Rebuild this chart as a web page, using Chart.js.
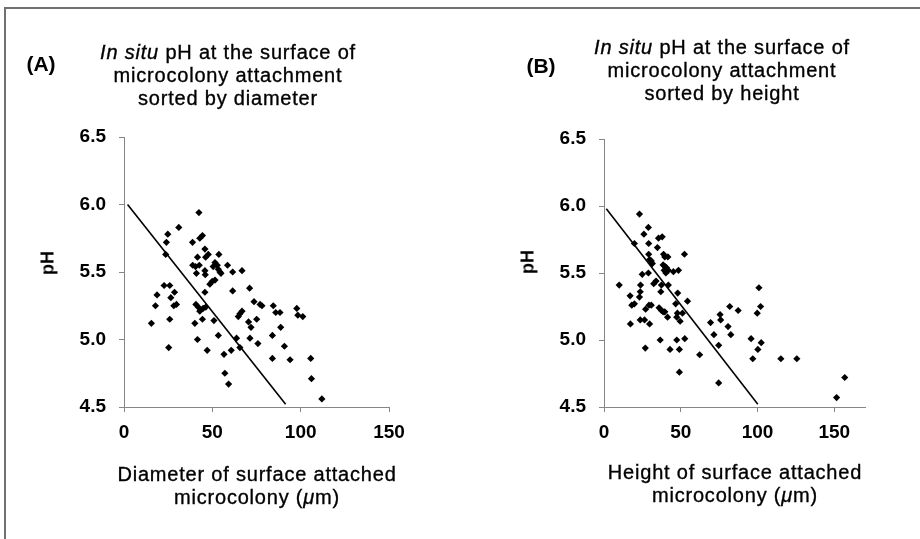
<!DOCTYPE html>
<html>
<head>
<meta charset="utf-8">
<script src="https://cdn.jsdelivr.net/npm/chart.js@4.4.0/dist/chart.umd.min.js"></script>
<style>
html, body { margin: 0; padding: 0; background: #fff; }
#wrap { position: relative; width: 920px; height: 539px; overflow: hidden; font-family: "Liberation Sans", Arial, sans-serif; color: #000; }
#frame { position: absolute; left: 4px; top: 7px; width: 940px; height: 560px; border-top: 2px solid #707070; border-left: 2px solid #707070; }
canvas { position: absolute; top: 0; }
.t { position: absolute; white-space: nowrap; text-align: center; transform: translate(-50%, -50%); }
.ttl { font-size: 20px; letter-spacing: 0.8px; line-height: 23px; -webkit-text-stroke: 0.35px #000; }
.lab { font-size: 21px; font-weight: bold; }
.ph { font-size: 18px; font-weight: bold; transform: translate(-50%, -50%) rotate(-90deg); }
</style>
</head>
<body>
<div id="wrap">
  <div id="frame"></div>
  <canvas id="chartA" width="460" height="539" style="left:0"></canvas>
  <canvas id="chartB" width="460" height="539" style="left:460px"></canvas>

  <div class="t lab" style="left:41px; top:64px">(A)</div>
  <div class="t ttl" style="left:228px; top:75px"><i>In situ</i> pH at the surface of<br>microcolony attachment<br>sorted by diameter</div>
  <div class="t ph" style="left:48px; top:263px">pH</div>
  <div class="t ttl" style="left:257px; top:486px">Diameter of surface attached<br>microcolony (<i>μ</i>m)</div>

  <div class="t lab" style="left:541px; top:66px">(B)</div>
  <div class="t ttl" style="left:722px; top:70px"><i>In situ</i> pH at the surface of<br>microcolony attachment<br>sorted by height</div>
  <div class="t ph" style="left:528px; top:262px">pH</div>
  <div class="t ttl" style="left:735px; top:484px">Height of surface attached<br>microcolony (<i>μ</i>m)</div>
</div>

<script>
// (A) pH vs microcolony diameter
var diameterA = [15.5,17.8,18.7,22.7,25.9,23.6,24.0,24.8,25.9,25.3,
  26.5,28.6,28.2,29.7,31.0,38.8,38.9,40.5,41.0,41.6,
  42.4,42.9,44.4,42.6,45.8,46.2,47.7,45.8,46.0,40.7,
  42.0,42.9,44.8,46.3,45.8,40.1,44.4,41.6,47.1,48.6,
  49.9,51.5,50.5,51.5,52.8,53.7,53.4,54.3,54.9,50.9,
  53.4,58.6,61.5,61.5,66.8,56.6,57.1,59.2,60.7,63.7,
  64.7,65.6,66.8,65.6,71.1,70.5,71.9,71.3,73.6,75.1,
  75.8,77.0,78.1,84.5,85.9,88.3,88.7,84.0,84.0,90.8,
  94.0,97.8,98.4,101.2,105.7,106.1,112.0];
var phA = [5.12,5.25,5.33,5.40,5.40,5.63,5.72,5.78,5.15,4.94,
  5.31,5.35,5.25,5.26,5.83,5.72,5.55,5.54,5.49,5.61,
  5.94,5.75,5.77,5.55,5.67,5.61,5.63,5.51,5.48,5.26,
  5.24,5.21,5.23,5.24,5.35,5.12,5.15,5.00,4.92,5.41,
  5.43,5.44,5.54,5.57,5.55,5.63,5.52,5.50,5.49,5.14,
  5.03,5.55,5.50,5.36,5.51,4.89,4.75,4.67,4.92,5.01,
  5.17,5.19,5.21,4.94,5.38,5.13,5.09,5.01,5.28,5.15,
  4.97,5.26,5.25,5.25,5.20,5.20,5.09,5.03,4.86,4.95,
  4.85,5.23,5.18,5.17,4.86,4.71,4.56];
var trendAx = [2, 91.5];
var trendAy = [6.0, 4.52];

// (B) pH vs microcolony height
var heightB = [9.9,17.0,17.2,18.1,19.8,19.8,23.1,23.6,23.8,23.1,
  23.6,24.9,26.0,26.4,27.1,26.9,28.9,29.1,28.9,29.3,
  29.7,29.1,29.7,30.8,31.5,30.8,32.4,33.9,34.8,35.5,
  37.9,35.9,37.4,38.5,39.6,36.6,37.4,37.0,38.8,39.6,
  41.6,38.5,39.6,40.7,39.2,41.9,40.3,41.9,41.4,43.0,
  45.2,48.5,48.0,46.7,47.8,47.4,49.6,51.1,47.4,49.1,
  49.1,52.4,52.6,54.4,62.3,69.4,71.6,74.7,75.6,76.0,
  74.7,80.8,81.9,82.6,87.4,95.8,96.9,99.8,100.2,100.9,
  102.0,102.4,115.2,125.6,151.5,156.8];
var phB = [5.41,5.33,5.12,5.26,5.27,5.72,5.94,5.36,5.41,5.32,
  5.15,5.49,5.79,5.15,5.23,4.94,5.84,5.72,5.50,5.26,
  5.12,5.64,5.60,5.59,5.57,5.26,5.42,5.44,5.69,5.76,
  5.77,5.24,5.22,5.21,5.21,5.00,5.41,5.36,5.64,5.62,
  5.62,5.56,5.55,5.54,5.52,5.52,5.50,5.41,5.17,4.93,
  5.51,5.52,5.35,5.27,5.20,5.17,5.14,5.20,5.00,4.93,
  4.76,5.64,5.01,5.29,4.89,5.13,5.04,4.96,5.19,5.15,
  4.68,5.10,5.25,5.04,5.22,5.01,4.86,5.20,4.93,5.39,
  5.25,4.98,4.86,4.86,4.57,4.72];
var trendBx = [1.5, 100.2];
var trendBy = [5.98, 4.52];

var xTicks = [0, 50, 100, 150];
var yTicks = [4.5, 5.0, 5.5, 6.0, 6.5];

var axisGrey = '#868686';
var tickFont = { family: '"Liberation Sans", Arial, sans-serif', size: 19, weight: 'bold' };

function zip(xs, ys) {
  return xs.map(function (x, i) { return { x: x, y: ys[i] }; });
}

function scatter(id, xs, ys, tx, ty, xMax, box) {
  return new Chart(document.getElementById(id), {
    type: 'scatter',
    data: {
      datasets: [
        {
          data: zip(xs, ys),
          pointStyle: 'rectRot',
          pointRadius: 3.6,
          backgroundColor: '#000',
          borderColor: '#000',
          borderWidth: 0
        },
        {
          data: zip(tx, ty),
          showLine: true,
          borderColor: '#000',
          borderWidth: 1.6,
          pointRadius: 0
        }
      ]
    },
    options: {
      responsive: false,
      animation: false,
      layout: { padding: { left: 0, top: box.top, right: box.right, bottom: box.bottom } },
      plugins: { legend: { display: false }, tooltip: { enabled: false } },
      scales: {
        x: {
          type: 'linear',
          min: 0,
          max: xMax,
          afterBuildTicks: function (s) { s.ticks = xTicks.map(function (v) { return { value: v }; }); },
          afterFit: function (s) { s.height = 40; s.paddingLeft = 0; s.paddingRight = 0; },
          grid: { drawOnChartArea: false, tickLength: 5, color: axisGrey },
          border: { color: axisGrey, width: 1 },
          ticks: { padding: 9, color: '#000', font: tickFont, maxRotation: 0,
                   callback: function (v) { return String(v); } }
        },
        y: {
          type: 'linear',
          min: 4.5,
          max: 6.5,
          afterBuildTicks: function (s) { s.ticks = yTicks.map(function (v) { return { value: v }; }); },
          afterFit: function (s) { s.width = box.left; s.paddingTop = 0; s.paddingBottom = 0; },
          grid: { drawOnChartArea: false, tickLength: 5, color: axisGrey },
          border: { color: axisGrey, width: 1 },
          ticks: { padding: 13, color: '#000', font: tickFont,
                   callback: function (v) { return v.toFixed(1); } }
        }
      }
    }
  });
}

var chartA = scatter('chartA', diameterA, phA, trendAx, trendAy, 150,
  { left: 124, top: 137, right: 71, bottom: 92 });
var chartB = scatter('chartB', heightB, phB, trendBx, trendBy, 170,
  { left: 144, top: 139, right: 55, bottom: 92 });
</script>
</body>
</html>
